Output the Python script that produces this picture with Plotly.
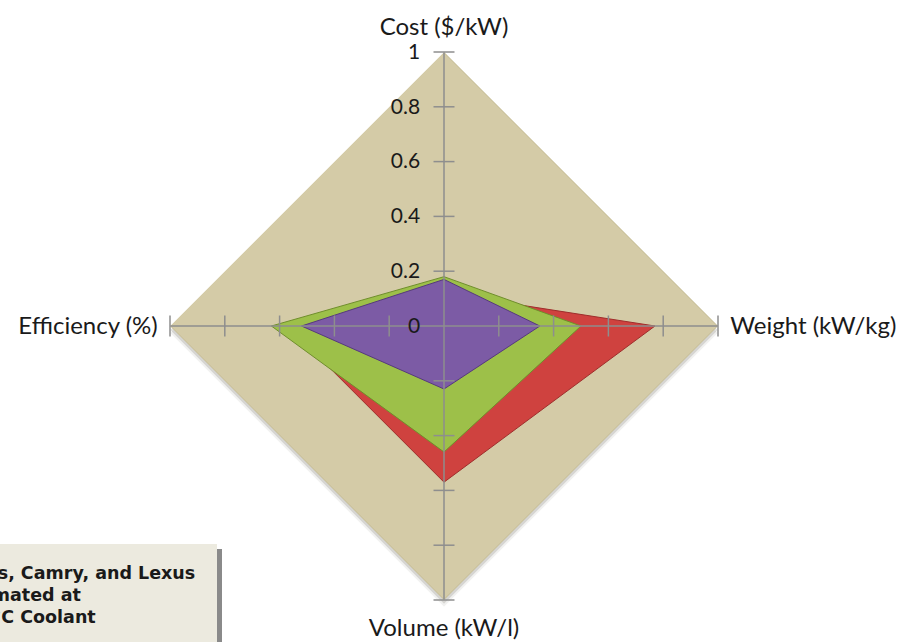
import plotly.graph_objects as go

# ---- data -------------------------------------------------------------
categories = ["Cost ($/kW)", "Weight (kW/kg)", "Volume (kW/l)", "Efficiency (%)"]
series_names = ["Series 1", "Series 2", "Series 3"]
red_vals = [0.12, 0.77, 0.57, 0.57]
green_vals = [0.18, 0.50, 0.46, 0.63]
purple_vals = [0.17, 0.35, 0.23, 0.52]
radial_tickvals = [0, 0.2, 0.4, 0.6, 0.8, 1.0]
radial_ticktext = ["0", "0.2", "0.4", "0.6", "0.8", "1"]
note_lines = ["2004 Prius, Camry, and Lexus", "Estimated at", "105°C Coolant"]

# ---- page / plot geometry (pixels) -----------------------------------
W, H = 905, 642
CX, CY, R = 444, 326, 274

def dom(dx=0, dy=0):
    return dict(
        x=[(CX - R + dx) / W, (CX + R + dx) / W],
        y=[1 - (CY + R + dy) / H, 1 - (CY - R + dy) / H],
    )

TAN = "#D4CBA7"
SPOKE = "#8E8E8E"
LABEL_FONT = "Lato"

fig = go.Figure()
r_max = radial_tickvals[-1]

# soft drop shadow under the diamond (offset layers)
shadow_layers = [("polar", 0, 7, 0.07), ("polar2", 0, 4, 0.15)]
for sp, dx, dy, a in shadow_layers:
    fig.add_trace(go.Scatterpolar(
        r=[r_max] * len(categories), theta=categories, fill="toself",
        fillcolor=f"rgba(60,55,40,{a})", line=dict(width=0), mode="lines",
        hoverinfo="skip", showlegend=False, subplot=sp))

# main diamond background
fig.add_trace(go.Scatterpolar(
    r=[r_max] * len(categories), theta=categories, fill="toself",
    fillcolor=TAN, line=dict(width=1.5, color="#C6BD97"), mode="lines",
    hoverinfo="skip", showlegend=False, subplot="polar3"))

series = [
    (series_names[0], red_vals, "#CF423F", "#9E2E2C"),
    (series_names[1], green_vals, "#9DC049", "#6F8E2C"),
    (series_names[2], purple_vals, "#7C5BA5", "#56397D"),
]
for name, vals, fc, lc in series:
    fig.add_trace(go.Scatterpolar(
        r=vals + vals[:1], theta=categories + categories[:1], name=name,
        fill="toself", fillcolor=fc, mode="lines",
        line=dict(color=lc, width=1), showlegend=False, subplot="polar3"))

# spokes, drawn over the filled series
for cat in categories:
    fig.add_trace(go.Scatterpolar(
        r=[radial_tickvals[0], r_max], theta=[cat, cat], mode="lines",
        line=dict(color=SPOKE, width=1.5),
        hoverinfo="skip", showlegend=False, subplot="polar3"))

# cross tick marks on every spoke
tick_r = radial_tickvals[1:]
for cat in categories:
    vertical_spoke = cat in (categories[0], categories[2])
    fig.add_trace(go.Scatterpolar(
        r=tick_r, theta=[cat] * len(tick_r), mode="markers",
        marker=dict(symbol="line-ew" if vertical_spoke else "line-ns", size=15,
                    line=dict(width=1.5, color=SPOKE)),
        hoverinfo="skip", showlegend=False, subplot="polar3"))

hidden_polar = dict(
    bgcolor="rgba(0,0,0,0)", gridshape="linear",
    radialaxis=dict(visible=False, range=[0, r_max]),
    angularaxis=dict(visible=False, rotation=90, direction="clockwise",
                     categoryorder="array", categoryarray=categories),
)

fig.update_layout(
    width=W, height=H, margin=dict(l=0, r=0, t=0, b=0),
    paper_bgcolor="white", plot_bgcolor="white", showlegend=False,
    polar=dict(hidden_polar, domain=dom(0, 7)),
    polar2=dict(hidden_polar, domain=dom(0, 4)),
    polar3=dict(
        domain=dom(), bgcolor="rgba(0,0,0,0)", gridshape="linear",
        radialaxis=dict(
            range=[0, r_max], angle=90, tickangle=90, side="counterclockwise",
            tickvals=radial_tickvals, ticktext=radial_ticktext,
            showgrid=False, showline=False, ticks="outside", ticklen=16,
            tickcolor="rgba(0,0,0,0)", layer="above traces",
            tickfont=dict(family=LABEL_FONT, size=21, color="#1A1A1A")),
        angularaxis=dict(
            rotation=90, direction="clockwise",
            categoryorder="array", categoryarray=categories,
            showgrid=False, showline=False, ticks="outside", ticklen=7,
            tickcolor="rgba(0,0,0,0)",
            tickfont=dict(family=LABEL_FONT, size=24, color="#1A1A1A")),
    ),
)

# note box in the lower-left corner (with its shadow strip)
BOX_RIGHT, BOX_TOP = 217, 544
fig.add_shape(type="rect", xref="paper", yref="paper",
              x0=BOX_RIGHT / W, x1=(BOX_RIGHT + 5) / W,
              y0=-0.05, y1=1 - (BOX_TOP + 5) / H,
              fillcolor="#8A8A8A", line=dict(width=0), layer="above")
fig.add_shape(type="rect", xref="paper", yref="paper",
              x0=-0.05, x1=BOX_RIGHT / W, y0=-0.05, y1=1 - BOX_TOP / H,
              fillcolor="#ECEADF", line=dict(width=0), layer="above")

line_right_px = [197, 83, 98]
line_mid_px = [573, 595, 617]
for txt, xr, ym in zip(note_lines, line_right_px, line_mid_px):
    fig.add_annotation(
        text=f"<b>{txt}</b>", xref="paper", yref="paper",
        x=xr / W, y=1 - ym / H, xanchor="right", yanchor="middle",
        showarrow=False,
        font=dict(family="DejaVu Sans", size=17.5, color="#1A1A1A"))

fig.write_html("out.html", config={"displayModeBar": False})
